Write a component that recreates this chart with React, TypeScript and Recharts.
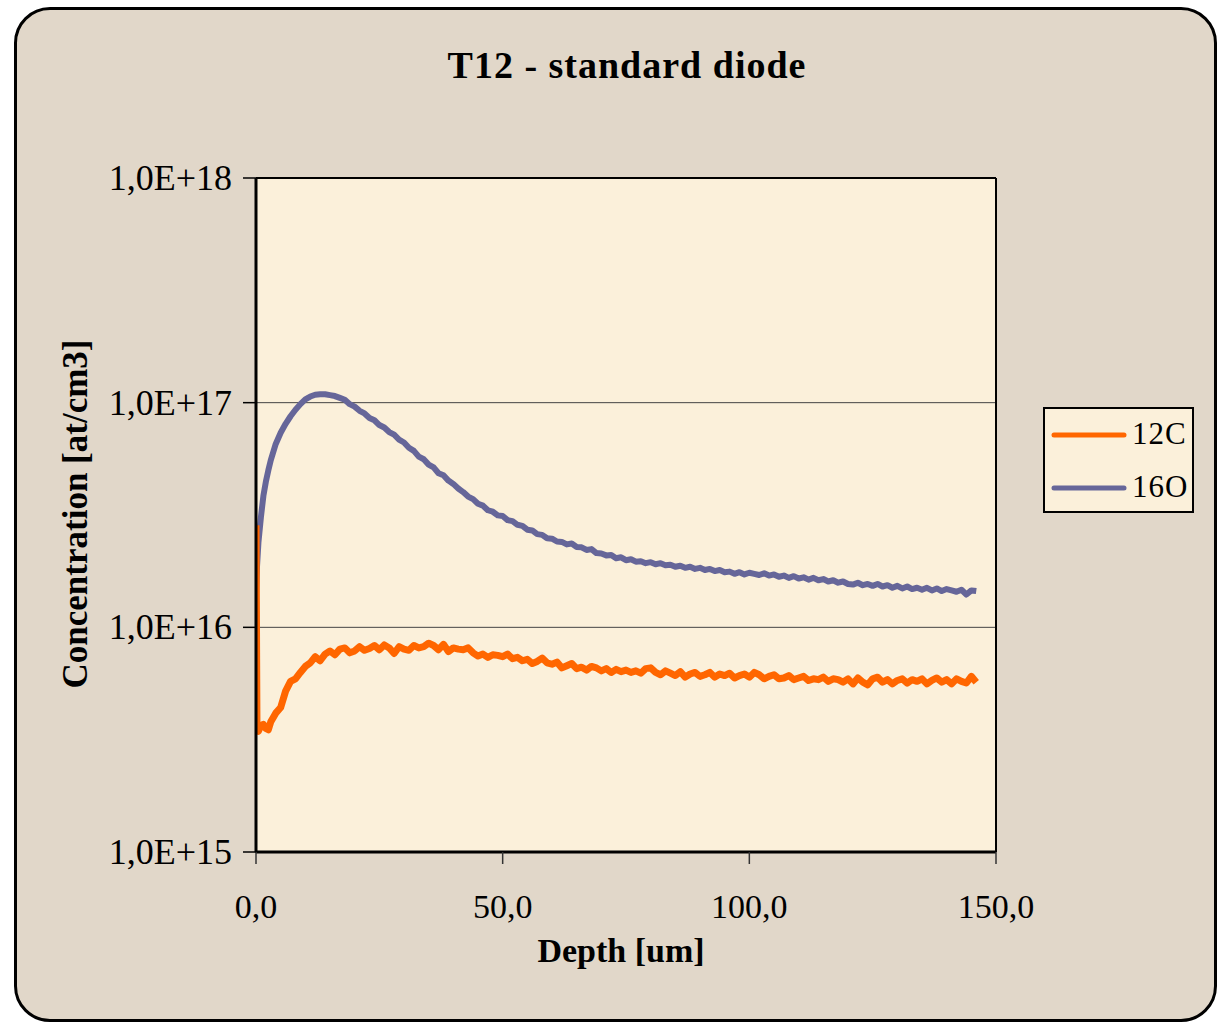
import React from 'react';
import { LineChart, Line, XAxis, YAxis, CartesianGrid, ReferenceLine, Legend } from 'recharts';

const title = 'T12 - standard diode';
const xTitle = 'Depth [um]';
const yTitle = 'Concentration [at/cm3]';
const seriesNames = ['12C', '16O'];
const seriesColors = ['#FF6600', '#666699'];
const xTicks = [0, 50, 100, 150];
const yTicks = [1e15, 1e16, 1e17, 1e18];

const depth = [
  0, 0.2, 0.5, 1, 1.5, 2, 2.5, 3,
  4, 5, 6, 7, 8, 9, 10, 11, 12, 13,
  14, 15, 16, 17, 18, 19, 20, 21, 22, 23,
  24, 25, 26, 27, 28, 29, 30, 31, 32, 33,
  34, 35, 36, 37, 38, 39, 40, 41, 42, 43,
  44, 45, 46, 47, 48, 49, 50, 51, 52, 53,
  54, 55, 56, 57, 58, 59, 60, 61, 62, 63,
  64, 65, 66, 67, 68, 69, 70, 71, 72, 73,
  74, 75, 76, 77, 78, 79, 80, 81, 82, 83,
  84, 85, 86, 87, 88, 89, 90, 91, 92, 93,
  94, 95, 96, 97, 98, 99, 100, 101, 102, 103,
  104, 105, 106, 107, 108, 109, 110, 111, 112, 113,
  114, 115, 116, 117, 118, 119, 120, 121, 122, 123,
  124, 125, 126, 127, 128, 129, 130, 131, 132, 133,
  134, 135, 136, 137, 138, 139, 140, 141, 142, 143,
  144, 145, 146,
];

const c12 = [
  2.85e16, 3.5e15, 3.45e15, 3.65e15, 3.7e15, 3.55e15, 3.5e15, 3.8e15,
  4.15e15, 4.4e15, 5.2e15, 5.75e15, 5.9e15, 6.3e15, 6.7e15, 6.95e15, 7.4e15, 7.1e15,
  7.6e15, 7.85e15, 7.55e15, 8.0e15, 8.1e15, 7.7e15, 7.85e15, 8.2e15, 7.9e15, 8.05e15,
  8.3e15, 7.95e15, 8.35e15, 8.1e15, 7.65e15, 8.2e15, 8.0e15, 7.9e15, 8.3e15, 8.1e15,
  8.2e15, 8.5e15, 8.3e15, 7.95e15, 8.4e15, 7.8e15, 8.1e15, 8.0e15, 7.95e15, 8.1e15,
  7.7e15, 7.45e15, 7.6e15, 7.35e15, 7.55e15, 7.5e15, 7.4e15, 7.6e15, 7.25e15, 7.35e15,
  7.1e15, 7.2e15, 6.9e15, 7.05e15, 7.3e15, 6.95e15, 6.85e15, 7.0e15, 6.6e15, 6.75e15,
  6.9e15, 6.55e15, 6.65e15, 6.45e15, 6.7e15, 6.6e15, 6.4e15, 6.55e15, 6.3e15, 6.5e15,
  6.35e15, 6.45e15, 6.3e15, 6.4e15, 6.25e15, 6.55e15, 6.6e15, 6.3e15, 6.15e15, 6.4e15,
  6.25e15, 6.1e15, 6.35e15, 6.0e15, 6.2e15, 6.3e15, 6.05e15, 6.15e15, 6.3e15, 6.0e15,
  6.2e15, 6.1e15, 6.25e15, 5.95e15, 6.1e15, 6.2e15, 6.0e15, 6.3e15, 6.15e15, 5.9e15,
  6.05e15, 6.15e15, 5.9e15, 5.95e15, 6.1e15, 5.85e15, 5.95e15, 6.05e15, 5.8e15, 5.9e15,
  5.85e15, 6.0e15, 5.75e15, 5.9e15, 5.85e15, 5.7e15, 5.9e15, 5.6e15, 5.95e15, 5.7e15,
  5.55e15, 5.9e15, 6.0e15, 5.7e15, 5.85e15, 5.6e15, 5.8e15, 5.9e15, 5.65e15, 5.85e15,
  5.75e15, 5.9e15, 5.6e15, 5.8e15, 5.95e15, 5.7e15, 5.85e15, 5.6e15, 5.9e15, 5.75e15,
  5.65e15, 6.05e15, 5.7e15,
];

const o16 = [
  1.42e16, 1.86e16, 2.4e16, 3.1e16, 3.85e16, 4.45e16, 5.0e16, 5.55e16,
  6.55e16, 7.35e16, 8.05e16, 8.7e16, 9.3e16, 9.85e16, 10.35e16, 10.65e16, 10.85e16, 10.9e16,
  10.9e16, 10.8e16, 10.7e16, 10.5e16, 10.3e16, 9.85e16, 9.6e16, 9.2e16, 8.95e16, 8.55e16,
  8.35e16, 7.95e16, 7.75e16, 7.4e16, 7.2e16, 6.85e16, 6.65e16, 6.3e16, 6.1e16, 5.75e16,
  5.6e16, 5.3e16, 5.15e16, 4.85e16, 4.75e16, 4.5e16, 4.35e16, 4.15e16, 4.0e16, 3.82e16,
  3.72e16, 3.55e16, 3.48e16, 3.32e16, 3.27e16, 3.15e16, 3.13e16, 3.0e16, 2.97e16, 2.86e16,
  2.83e16, 2.72e16, 2.7e16, 2.6e16, 2.58e16, 2.49e16, 2.48e16, 2.41e16, 2.4e16, 2.34e16,
  2.36e16, 2.28e16, 2.27e16, 2.21e16, 2.23e16, 2.14e16, 2.13e16, 2.09e16, 2.1e16, 2.03e16,
  2.05e16, 1.99e16, 2.01e16, 1.96e16, 1.97e16, 1.93e16, 1.95e16, 1.91e16, 1.93e16, 1.89e16,
  1.9e16, 1.86e16, 1.88e16, 1.84e16, 1.86e16, 1.82e16, 1.84e16, 1.8e16, 1.82e16, 1.78e16,
  1.8e16, 1.76e16, 1.77e16, 1.73e16, 1.76e16, 1.72e16, 1.75e16, 1.73e16, 1.71e16, 1.74e16,
  1.7e16, 1.72e16, 1.68e16, 1.7e16, 1.66e16, 1.69e16, 1.65e16, 1.67e16, 1.63e16, 1.66e16,
  1.62e16, 1.64e16, 1.6e16, 1.62e16, 1.58e16, 1.6e16, 1.56e16, 1.55e16, 1.58e16, 1.54e16,
  1.56e16, 1.53e16, 1.56e16, 1.52e16, 1.54e16, 1.5e16, 1.53e16, 1.49e16, 1.52e16, 1.48e16,
  1.5e16, 1.47e16, 1.5e16, 1.46e16, 1.49e16, 1.45e16, 1.48e16, 1.46e16, 1.44e16, 1.47e16,
  1.4e16, 1.46e16, 1.45e16,
];

const data = depth.map((d, i) => ({ depth: d, c12: c12[i], o16: o16[i] }));

const FONT = '"Liberation Serif", "Times New Roman", serif';
const PLOT_BG = '#fbf0da';
const OUTER_BG = '#e1d7c9';

const fmtY = (v: number) => `1,0E+${Math.round(Math.log10(v))}`;
const fmtX = (v: number) => v.toFixed(1).replace('.', ',');

const YTick = (props: any) => {
  const { x, y, payload } = props;
  return (
    <text x={x - 9} y={y + 12} textAnchor="end" fontFamily={FONT} fontSize={36} fill="#000">
      {fmtY(payload.value)}
    </text>
  );
};

const XTick = (props: any) => {
  const { x, y, payload } = props;
  return (
    <text x={x} y={y + 52} textAnchor="middle" fontFamily={FONT} fontSize={34} fill="#000">
      {fmtX(payload.value)}
    </text>
  );
};

const LegendBox = (props: any) => {
  const payload = props.payload || [];
  return (
    <div
      style={{
        width: 151,
        height: 106,
        boxSizing: 'border-box',
        border: '2px solid #000',
        background: PLOT_BG,
      }}
    >
      <svg width={147} height={102} style={{ display: 'block' }}>
        {payload.map((p: any, i: number) => (
          <g key={i}>
            <line
              x1={9}
              x2={79}
              y1={26 + i * 53}
              y2={26 + i * 53}
              stroke={p.color}
              strokeWidth={5}
              strokeLinecap="round"
            />
            <text x={87} y={35 + i * 53} fontFamily={FONT} fontSize={31} letterSpacing={1} fill="#000">
              {p.value}
            </text>
          </g>
        ))}
      </svg>
    </div>
  );
};

export default function App() {
  return (
    <div style={{ position: 'absolute', left: 0, top: 0, width: 1220, height: 1025, background: '#fff' }}>
      <div
        style={{
          position: 'absolute',
          left: 14,
          top: 7,
          width: 1203,
          height: 1015,
          boxSizing: 'border-box',
          border: '3px solid #000',
          borderRadius: 36,
          background: OUTER_BG,
        }}
      />
      <div style={{ position: 'absolute', left: 0, top: 0 }}>
        <LineChart
          width={1220}
          height={1025}
          data={data}
          margin={{ top: 178, right: 224, bottom: 0, left: 0 }}
        >
          <CartesianGrid vertical={false} fill={PLOT_BG} fillOpacity={1} stroke="#444" strokeWidth={1} />
          <XAxis
            dataKey="depth"
            type="number"
            domain={[0, 150]}
            ticks={xTicks}
            height={173}
            tick={<XTick />}
            tickSize={12}
            axisLine={{ stroke: '#000', strokeWidth: 3 }}
            tickLine={{ stroke: '#333', strokeWidth: 1.5 }}
            allowDataOverflow
          />
          <YAxis
            type="number"
            scale="log"
            domain={[1e15, 1e18]}
            ticks={yTicks}
            width={256}
            tick={<YTick />}
            tickSize={13}
            axisLine={{ stroke: '#000', strokeWidth: 3 }}
            tickLine={{ stroke: '#000', strokeWidth: 1.5 }}
            allowDataOverflow
          />
          <ReferenceLine x={150} stroke="#000" strokeWidth={2} ifOverflow="extendDomain" />
          <ReferenceLine y={1e18} stroke="#000" strokeWidth={2} ifOverflow="extendDomain" />
          <Line
            type="linear"
            dataKey="o16"
            name={seriesNames[1]}
            stroke={seriesColors[1]}
            strokeWidth={6}
            strokeLinejoin="round"
            dot={false}
            legendType="line"
            isAnimationActive={false}
          />
          <Line
            type="linear"
            dataKey="c12"
            name={seriesNames[0]}
            stroke={seriesColors[0]}
            strokeWidth={7}
            strokeLinejoin="round"
            dot={false}
            isAnimationActive={false}
          />
          <Legend
            layout="vertical"
            align="center"
            verticalAlign="middle"
            content={<LegendBox />}
            itemSorter={(item: any) => (item.value === seriesNames[0] ? 0 : 1)}
            wrapperStyle={{ position: 'absolute', left: 1043, top: 407, width: 151, height: 106 }}
          />
        </LineChart>
      </div>
      <svg
        width={1220}
        height={1025}
        style={{ position: 'absolute', left: 0, top: 0, pointerEvents: 'none' }}
      >
        <text x={627} y={78} textAnchor="middle" fontFamily={FONT} fontWeight="bold" fontSize={38} letterSpacing={1} fill="#000">
          {title}
        </text>
        <text x={621} y={962} textAnchor="middle" fontFamily={FONT} fontWeight="bold" fontSize={34} fill="#000">
          {xTitle}
        </text>
        <text
          x={0}
          y={0}
          transform="translate(87,514) rotate(-90)"
          textAnchor="middle"
          fontFamily={FONT}
          fontWeight="bold"
          fontSize={35}
          fill="#000"
        >
          {yTitle}
        </text>
      </svg>
    </div>
  );
}
